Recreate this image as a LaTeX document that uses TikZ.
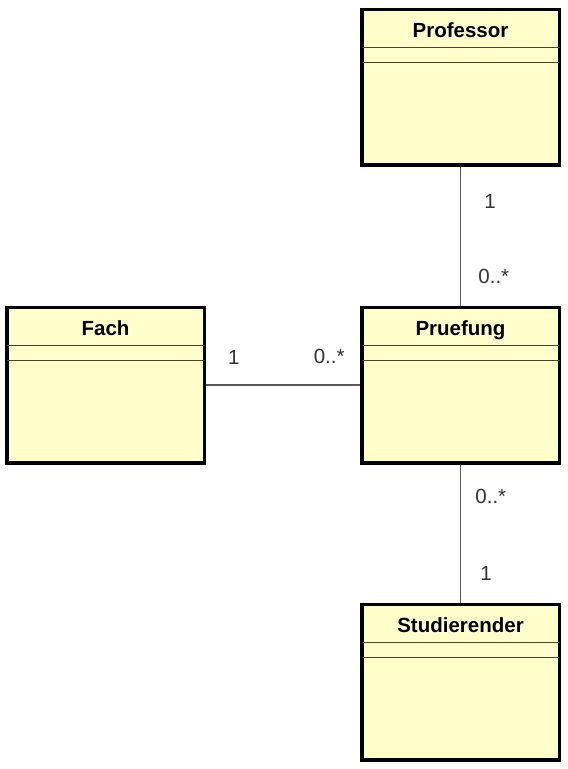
\documentclass[tikz,border=0pt]{standalone}
\usepackage{fontspec}
\setmainfont{Liberation Sans}
\usetikzlibrary{positioning}
\definecolor{klassengelb}{RGB}{255,255,204}
\definecolor{trenner}{RGB}{70,70,45}
\tikzset{
  klasse/.style={draw=black, line width=3.5pt, fill=klassengelb,
    minimum width=197.5pt, minimum height=155.5pt, inner sep=0pt},
  klassenname/.style={font=\bfseries\fontsize{20.5}{24}\selectfont,
    inner sep=0pt, anchor=base},
  abteil/.style={draw=trenner, line width=1.4pt},
  assoz/.style={draw=black!65, line width=1.8pt},
  mult/.style={font=\fontsize{20.5}{24}\selectfont, inner sep=0pt, text=black!80}
}
\begin{document}
\begin{tikzpicture}[x=1pt,y=-1pt]
    \useasboundingbox (0,0) rectangle (568,769);
    \path[coordinate] (460.5,385) coordinate(mitte);

 \node[klasse] (pruef) at (mitte) {};
 \node[klasse, above=139pt of pruef] (prof) {};
 \node[klasse, left=154pt of pruef] (fach) {};
 \node[klasse, below=138pt of pruef] (stud) {};

    \foreach \k/\name in {prof/Professor, fach/Fach, pruef/Pruefung, stud/Studierender} {
      \node[klassenname] (\k-name) at ([yshift=-30pt]\k.north) {\name};
      \draw[abteil] ([xshift=1.5pt,yshift=-40pt]\k.north west) -- ([xshift=-1.5pt,yshift=-40pt]\k.north east);
      \draw[abteil] ([xshift=1.5pt,yshift=-55pt]\k.north west) -- ([xshift=-1.5pt,yshift=-55pt]\k.north east);
    }

 \draw[assoz] (prof) -- (pruef)
    node[mult, right=23pt, pos=0.25] {1}
    node[mult, right=17pt, pos=0.79] {0..*};
 \draw[assoz] (fach) -- (pruef)
    node[mult, above=20pt, pos=0.18] {1}
    node[mult, above=20pt, pos=0.80] {0..*};
 \draw[assoz] (pruef) -- (stud)
    node[mult, right=14pt, pos=0.23] {0..*}
    node[mult, right=19pt, pos=0.79] {1};
\end{tikzpicture}
\end{document}
